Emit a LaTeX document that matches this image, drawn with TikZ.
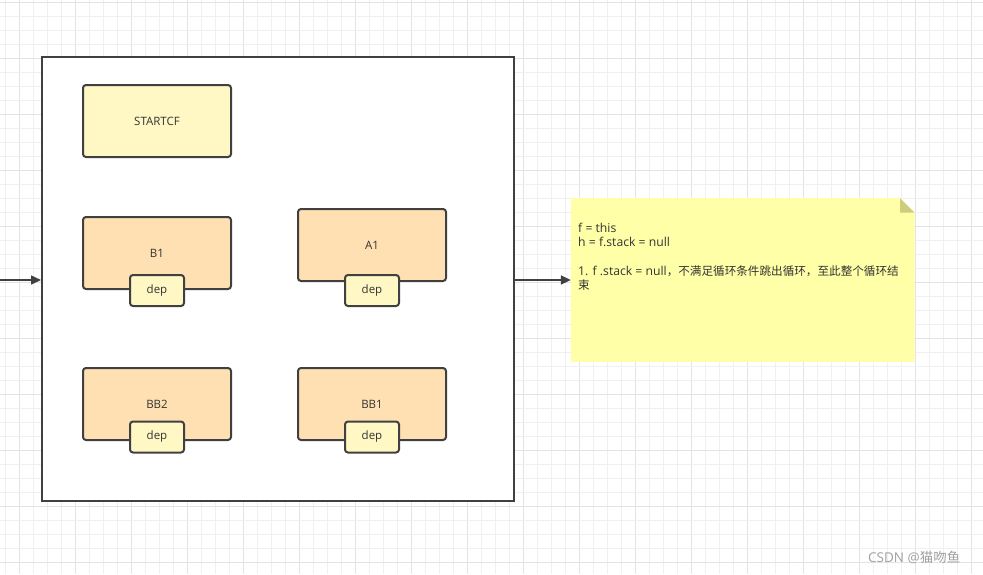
\documentclass[tikz,border=0pt]{standalone}
\usepackage{fontspec}
\setmainfont{Open Sans}
\newfontfamily\cjk{Noto Sans CJK SC}
\usetikzlibrary{arrows.meta}
\definecolor{gridminor}{HTML}{F0F0F0}
\definecolor{gridmajor}{HTML}{E3E3E3}
\definecolor{strokec}{HTML}{404040}
\definecolor{orangefill}{HTML}{FFE0B2}
\definecolor{yellowfill}{HTML}{FFF8C4}
\definecolor{notefill}{HTML}{FFFFA8}
\definecolor{foldfill}{HTML}{CDCD7E}
\definecolor{textc}{HTML}{333333}
\definecolor{markc}{HTML}{A0A0A0}
\tikzset{
  bigbox/.style={draw=strokec, line width=2pt, fill=white, minimum width=472, minimum height=444, inner sep=0},
  mainbox/.style={draw=strokec, line width=2pt, rounded corners=3pt, minimum width=148, minimum height=72, inner sep=0, font=\fontsize{11.5}{13}\selectfont, text=textc},
  orangebox/.style={mainbox, fill=orangefill},
  startbox/.style={mainbox, fill=yellowfill},
  depbox/.style={draw=strokec, line width=2pt, rounded corners=3pt, fill=yellowfill, minimum width=54, minimum height=31, inner sep=0, font=\fontsize{11.5}{13}\selectfont, text=textc},
  notetext/.style={anchor=base west, inner sep=0, font=\fontsize{12.2}{14}\selectfont, text=textc},
  arr/.style={draw=strokec, line width=1.5pt, -{Triangle[length=10pt, width=9pt]}},
}
\begin{document}
\begin{tikzpicture}[x=1pt, y=-1pt]
\useasboundingbox (0,0) rectangle (983,574);
\fill[white] (0,0) rectangle (983,574);
% grid
\foreach \k in {0,...,69} {
  \pgfmathtruncatemacro{\m}{mod(\k,4)}
  \ifnum\m=1
    \draw[gridmajor, line width=1pt] (5+14*\k,0) -- (5+14*\k,574);
  \else
    \draw[gridminor, line width=1pt] (5+14*\k,0) -- (5+14*\k,574);
  \fi
}
\foreach \k in {0,...,40} {
  \pgfmathtruncatemacro{\m}{mod(\k,4)}
  \ifnum\m=0
    \draw[gridmajor, line width=1pt] (0,2+14*\k) -- (983,2+14*\k);
  \else
    \draw[gridminor, line width=1pt] (0,2+14*\k) -- (983,2+14*\k);
  \fi
}
% frame
\node[bigbox] (frame) at (278,279) {};
\node[startbox] (startcf) at (157,121) {STARTCF};
\node[orangebox] (b1) at (157,253) {B1};
\node[depbox] (depb1) at (157,290.5) {dep};
\node[orangebox] (a1) at (372,245) {A1};
\node[depbox] (depa1) at (372,290.5) {dep};
\node[orangebox] (bb2) at (157,404) {BB2};
\node[depbox] (depbb2) at (157,437) {dep};
\node[orangebox] (bb1) at (372,404) {BB1};
\node[depbox] (depbb1) at (372,437) {dep};
% note
\node[minimum width=343.3, minimum height=163.4, inner sep=0] (note) at (742.7,280) {};
\fill[notefill] (note.south west) -- (note.north west) -- ([xshift=-14.5pt]note.north east) -- ([yshift=-14.5pt]note.north east) -- (note.south east) -- cycle;
\fill[foldfill] ([xshift=-14.5pt]note.north east) -- ([xshift=-14.5pt, yshift=-14.5pt]note.north east) -- ([yshift=-14.5pt]note.north east) -- cycle;
\node[notetext] (l1) at (578,232.5) {f = this};
\node[notetext] (l2) at (578,246.8) {h = f.stack = null};
\node[notetext] (l3) at (578,275.4) {1. f .stack = null{\cjk\fontsize{11.6}{14}\selectfont ，不满足循环条件跳出循环，至此整个循环结}};
\node[notetext] (l4) at (578,289.7) {{\cjk\fontsize{11.6}{14}\selectfont 束}};
% connectors
\coordinate (in) at (0,280);
\draw[arr] (in) -- (in -| frame.west);
\draw[arr] (in -| frame.east) -- (in -| note.west);
% watermark
\node[anchor=base west, inner sep=0, font=\fontsize{13.5}{15}\selectfont, text=markc] (mark) at (868,562) {CSDN @{\cjk 猫吻鱼}};
\end{tikzpicture}
\end{document}
